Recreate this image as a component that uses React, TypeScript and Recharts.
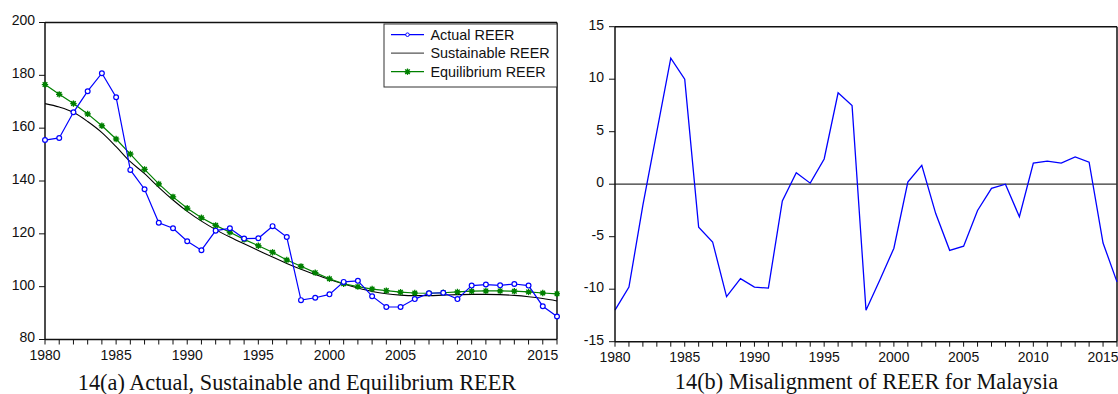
import React from 'react';
import { LineChart, Line, XAxis, YAxis, ReferenceLine } from 'recharts';

// yearly observations, 1980-2016
const years = [
  1980, 1981, 1982, 1983, 1984, 1985, 1986, 1987, 1988, 1989,
  1990, 1991, 1992, 1993, 1994, 1995, 1996, 1997, 1998, 1999,
  2000, 2001, 2002, 2003, 2004, 2005, 2006, 2007, 2008, 2009,
  2010, 2011, 2012, 2013, 2014, 2015, 2016,
];

const actualReer = [
  155.5, 156.3, 166.0, 174.0, 180.8, 171.7, 144.2, 136.9, 124.2, 122.1,
  117.2, 113.8, 121.2, 122.1, 118.2, 118.3, 122.9, 118.8, 94.9, 95.8,
  97.1, 101.8, 102.2, 96.4, 92.3, 92.3, 95.3, 97.5, 97.7, 95.3,
  100.4, 100.8, 100.5, 101.0, 100.4, 92.6, 88.7,
];

const sustainableReer = [
  169.3, 168.0, 166.0, 162.5, 158.3, 153.0, 147.3, 142.8, 137.6, 132.8,
  128.5, 124.8, 121.6, 118.8, 116.2, 113.7, 111.2, 108.8, 106.6, 104.6,
  102.7, 101.0, 99.5, 98.2, 97.3, 96.8, 96.6, 96.6, 96.8, 97.0,
  97.1, 97.1, 97.0, 96.7, 96.2, 95.5, 94.6,
];

const equilibriumReer = [
  176.5, 172.8, 169.3, 165.4, 160.9, 155.9, 150.2, 144.4, 138.9, 134.0,
  129.7, 126.1, 123.2, 120.6, 117.9, 115.5, 113.0, 110.1, 107.7, 105.3,
  103.0, 101.1, 100.0, 99.1, 98.5, 97.9, 97.6, 97.5, 97.7, 98.0,
  98.3, 98.4, 98.4, 98.3, 98.0, 97.6, 97.3,
];

const misalignment = [
  -12.0, -9.8, -2.0, 5.0, 12.0, 10.0, -4.1, -5.5, -10.7, -9.0,
  -9.8, -9.9, -1.6, 1.1, 0.1, 2.4, 8.7, 7.5, -12.0, -9.1,
  -6.1, 0.2, 1.8, -2.8, -6.3, -5.9, -2.5, -0.4, 0.0, -3.1,
  2.0, 2.2, 2.0, 2.6, 2.1, -5.6, -9.3,
];

const reerTicks = [80, 100, 120, 140, 160, 180, 200];
const misTicks = [-15, -10, -5, 0, 5, 10, 15];

const legendItems = ['Actual REER', 'Sustainable REER', 'Equilibrium REER'];
const captions = [
  '14(a) Actual, Sustainable and Equilibrium REER',
  '14(b) Misalignment of REER for Malaysia',
];

const reerData = years.map((year, i) => ({
  year,
  actual: actualReer[i],
  sustainable: sustainableReer[i],
  equilibrium: equilibriumReer[i],
}));

const misData = years.map((year, i) => ({ year, misalignment: misalignment[i] }));

const BLUE = '#0000ff';
const GREEN = '#008000';
const SANS = '"Liberation Sans", Arial, sans-serif';
const SERIF = '"Liberation Serif", "Times New Roman", serif';

// only every fifth year gets a label, the rest keep a bare tick mark
const YearTick = (props: any) => {
  const { x, y, payload } = props;
  if (payload.value % 5 !== 0) return <g />;
  return (
    <text x={x} y={y} dy="0.71em" textAnchor="middle" fontFamily={SANS} fontSize={14} fill="#111">
      {payload.value}
    </text>
  );
};

const ValueTick = (props: any) => {
  const { x, y, payload } = props;
  return (
    <text x={x} y={y} dy={2.9} textAnchor="end" fontFamily={SANS} fontSize={14} fill="#111">
      {payload.value}
    </text>
  );
};

const CircleDot = (props: any) => {
  const { cx, cy, index } = props;
  return <circle key={index} cx={cx} cy={cy} r={2.4} fill="#fff" stroke={BLUE} strokeWidth={1.2} />;
};

const StarDot = (props: any) => {
  const { cx, cy, index } = props;
  const s = 3.2;
  const d = 2.3;
  return (
    <g key={index} stroke={GREEN} strokeWidth={1.3}>
      <line x1={cx - s} y1={cy} x2={cx + s} y2={cy} />
      <line x1={cx} y1={cy - s} x2={cx} y2={cy + s} />
      <line x1={cx - d} y1={cy - d} x2={cx + d} y2={cy + d} />
      <line x1={cx - d} y1={cy + d} x2={cx + d} y2={cy - d} />
      <circle cx={cx} cy={cy} r={1.6} fill={GREEN} />
    </g>
  );
};

const ReerLegend = () => (
  <svg width={175} height={66} style={{ position: 'absolute', left: 383, top: 23 }}>
    <rect x={1} y={1} width={173} height={63} fill="#fff" stroke="#333" strokeWidth={1} />
    {legendItems.map((name, i) => {
      const y = 11.7 + i * 18.5;
      const color = i === 0 ? BLUE : i === 1 ? '#555' : GREEN;
      return (
        <g key={name}>
          <line x1={8} y1={y} x2={41} y2={y} stroke={color} strokeWidth={1.2} />
          {i === 0 && <circle cx={24.5} cy={y} r={1.8} fill="#fff" stroke={BLUE} strokeWidth={1} />}
          {i === 2 && <StarDot cx={24.5} cy={y} index={0} />}
          <text x={47.5} y={y + 5.1} fontFamily={SANS} fontSize={14.4} fill="#111">
            {name}
          </text>
        </g>
      );
    })}
  </svg>
);

const frame = { stroke: '#111', strokeWidth: 1.5 };

export default function App() {
  return (
    <div style={{ position: 'absolute', left: 0, top: 0, width: 1118, height: 394, background: '#fff' }}>
      <div style={{ position: 'absolute', left: 0, top: 0 }}>
        <LineChart width={560} height={394} data={reerData} margin={{ top: 22.5, right: 3, bottom: 34.5, left: 0 }}>
          <XAxis
            dataKey="year"
            type="number"
            domain={[1980, 2016]}
            ticks={years}
            interval={0}
            tickSize={5}
            tickMargin={6}
            height={20}
            axisLine={frame}
            tickLine={{ stroke: '#111' }}
            tick={<YearTick />}
          />
          <YAxis
            type="number"
            domain={[80, 200]}
            ticks={reerTicks}
            interval={0}
            width={45}
            tickSize={6}
            tickMargin={4}
            axisLine={frame}
            tickLine={{ stroke: '#111' }}
            tick={<ValueTick />}
          />
          {/* closing the box on top and right */}
          <ReferenceLine y={200} stroke="#111" strokeWidth={1.5} />
          <ReferenceLine x={2016} stroke="#111" strokeWidth={1.5} />
          <Line dataKey="sustainable" type="monotone" stroke="#000" strokeWidth={1.1} dot={false} isAnimationActive={false} />
          <Line dataKey="equilibrium" type="linear" stroke={GREEN} strokeWidth={1.2} dot={<StarDot />} isAnimationActive={false} />
          <Line dataKey="actual" type="linear" stroke={BLUE} strokeWidth={1.2} dot={<CircleDot />} isAnimationActive={false} />
        </LineChart>
        <ReerLegend />
      </div>

      <div style={{ position: 'absolute', left: 570, top: 0 }}>
        <LineChart width={548} height={394} data={misData} margin={{ top: 26.7, right: 1, bottom: 32.3, left: 0 }}>
          <XAxis
            dataKey="year"
            type="number"
            domain={[1980, 2016]}
            ticks={years}
            interval={0}
            tickSize={5}
            tickMargin={5}
            height={20}
            axisLine={frame}
            tickLine={{ stroke: '#111' }}
            tick={<YearTick />}
          />
          <YAxis
            type="number"
            domain={[-15, 15]}
            ticks={misTicks}
            interval={0}
            width={45}
            tickSize={6}
            tickMargin={5}
            axisLine={frame}
            tickLine={{ stroke: '#111' }}
            tick={<ValueTick />}
          />
          <ReferenceLine y={15} stroke="#111" strokeWidth={1.5} />
          <ReferenceLine x={2016} stroke="#111" strokeWidth={1.5} />
          <ReferenceLine y={0} stroke="#333" strokeWidth={1.2} />
          <Line dataKey="misalignment" type="linear" stroke={BLUE} strokeWidth={1.3} dot={false} isAnimationActive={false} />
        </LineChart>
      </div>

      <svg width={1118} height={394} style={{ position: 'absolute', left: 0, top: 0, pointerEvents: 'none' }}>
        <text x={297} y={390} textAnchor="middle" fontFamily={SERIF} fontSize={22.3} fill="#111">
          {captions[0]}
        </text>
        <text x={866.5} y={389} textAnchor="middle" fontFamily={SERIF} fontSize={22.3} fill="#111">
          {captions[1]}
        </text>
      </svg>
    </div>
  );
}
